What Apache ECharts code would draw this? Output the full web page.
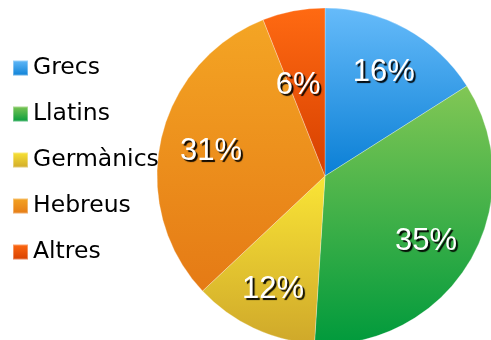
<!DOCTYPE html>
<html>
<head>
<meta charset="utf-8">
<script src="https://cdn.jsdelivr.net/npm/echarts@6/dist/echarts.min.js"></script>
<style>
  html, body { margin: 0; padding: 0; background: #fff; }
  #chart { width: 491px; height: 340px; }
</style>
</head>
<body>
<div id="chart"></div>
<script>
// Origen dels noms: percentatges per grup
const categories = ['Grecs', 'Llatins', 'Germànics', 'Hebreus', 'Altres'];
const values = [16, 35, 12, 31, 6];

// Vertical gradient (top, bottom) for each slice
const gradientStops = [
  ['#66bbfa', '#0a7fd5'],
  ['#82c755', '#009a3c'],
  ['#fae536', '#cfa82a'],
  ['#f4a524', '#e57a15'],
  ['#ff6a12', '#d63f00']
];

function grad(i) {
  return new echarts.graphic.LinearGradient(0, 0, 0, 1, [
    { offset: 0, color: gradientStops[i][0] },
    { offset: 1, color: gradientStops[i][1] }
  ]);
}

const chart = echarts.init(document.getElementById('chart'), null, { renderer: 'canvas' });

const cx = 325, cy = 176, R = 168;

chart.setOption({
  animation: false,
  legend: {
    orient: 'vertical',
    left: 12,
    top: 56,
    padding: 0,
    itemWidth: 15,
    itemHeight: 15,
    itemGap: 22,
    icon: 'rect',
    data: categories,
    textStyle: {
      fontFamily: 'DejaVu Sans',
      fontSize: 23.5,
      lineHeight: 23,
      color: '#000',
      padding: [0, 0, 0, 0]
    }
  },
  series: [
    {
      type: 'pie',
      center: [cx, cy],
      radius: [0, R],
      startAngle: 90,
      clockwise: true,
      silent: true,
      label: { show: false },
      labelLine: { show: false },
      itemStyle: { borderColor: 'rgba(255,255,255,0.35)', borderWidth: 0.8 },
      data: categories.map((name, i) => ({
        name, value: values[i], itemStyle: { color: grad(i) }
      }))
    },
    {
      // label ring: places the percentages further out than the slice middle
      type: 'pie',
      center: [cx, cy],
      radius: [70, R],
      startAngle: 90,
      clockwise: true,
      silent: true,
      itemStyle: { color: 'rgba(0,0,0,0)' },
      labelLine: { show: false },
      label: {
        show: true,
        position: 'inside',
        formatter: p => p.value + '%',
        fontFamily: 'Liberation Sans',
        fontSize: 31,
        color: '#fff',
        textShadowColor: 'rgba(0,0,0,0.95)',
        textShadowBlur: 1,
        textShadowOffsetX: 2,
        textShadowOffsetY: 2
      },
      labelLayout: p => {
        if (p.dataIndex === 4) return { dx: -4, dy: 29 };
        if (p.dataIndex === 3) return { dx: 5, dy: 2 };
        if (p.dataIndex === 1) return { dx: -4, dy: 3 };
        return { dy: 3 };
      },
      data: categories.map((name, i) => ({ name, value: values[i] }))
    }
  ]
});
</script>
</body>
</html>
